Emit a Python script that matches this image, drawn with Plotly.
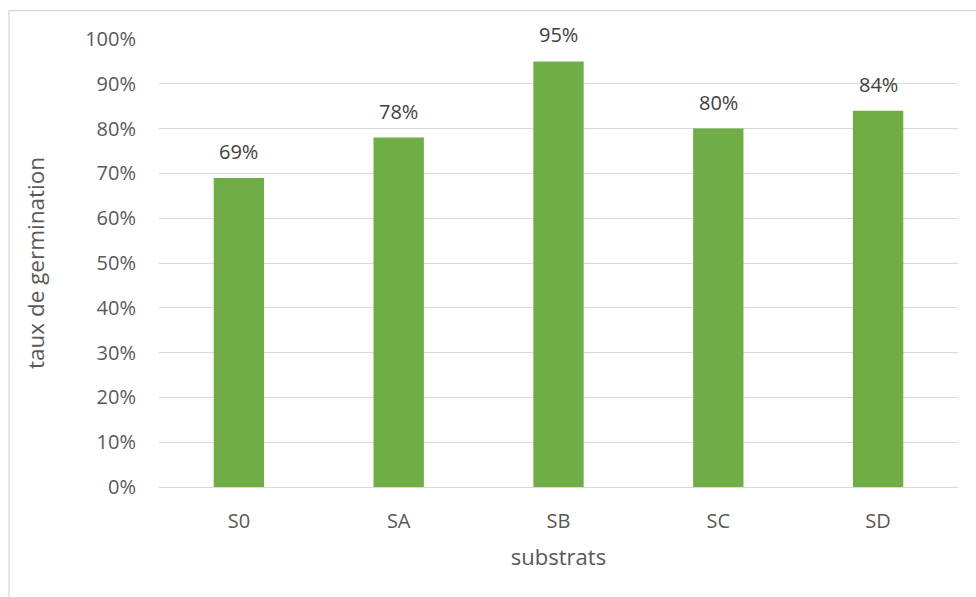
import plotly.graph_objects as go

substrats = ["S0", "SA", "SB", "SC", "SD"]
taux = [0.69, 0.78, 0.95, 0.80, 0.84]
y_ticks = [i / 10 for i in range(11)]
y_tick_labels = [f"{i * 10}%" for i in range(11)]

FONT = "Open Sans, Carlito, Calibri, sans-serif"
BAR_COLOR = "#70ad47"
GRID = "#d9d9d9"

fig = go.Figure(
    go.Bar(
        x=substrats,
        y=taux,
        marker=dict(color=BAR_COLOR, line=dict(width=0)),
        width=0.315,
        hoverinfo="skip",
    )
)

# value labels above each bar
for s, v in zip(substrats, taux):
    fig.add_annotation(
        x=s, y=v, text=f"{round(v * 100)}%", showarrow=False,
        yanchor="bottom", yshift=11,
        font=dict(family=FONT, size=20, color="#404040"),
    )

# chart-area border
fig.add_shape(
    type="rect", xref="paper", yref="paper",
    x0=(9 - 159) / 799, x1=(1000 - 159) / 799,
    y0=(487 - 620) / 448, y1=(487 - 10.5) / 448,
    line=dict(color=GRID, width=1.3), fillcolor="rgba(0,0,0,0)", layer="below",
)

fig.update_layout(
    width=976, height=597,
    margin=dict(l=159, r=18, t=39, b=110),
    paper_bgcolor="white", plot_bgcolor="white",
    showlegend=False,
    font=dict(family=FONT, color="#595959"),
    xaxis=dict(
        showgrid=False, showline=True, linecolor=GRID, linewidth=1.3,
        ticks="", tickfont=dict(size=20, color="#595959"),
        ticklabelstandoff=16,
        title=dict(text="substrats", font=dict(size=22, color="#595959"), standoff=16),
    ),
    yaxis=dict(
        range=[0, 1.0], tickvals=y_ticks, ticktext=y_tick_labels,
        showgrid=True, gridcolor=GRID, gridwidth=1.3, zeroline=False,
        ticks="", tickfont=dict(size=20, color="#595959"),
        ticklabelstandoff=22,
        title=dict(text="taux de germination", font=dict(size=22.5, color="#595959"), standoff=34),
    ),
)

fig.write_html("out.html")
